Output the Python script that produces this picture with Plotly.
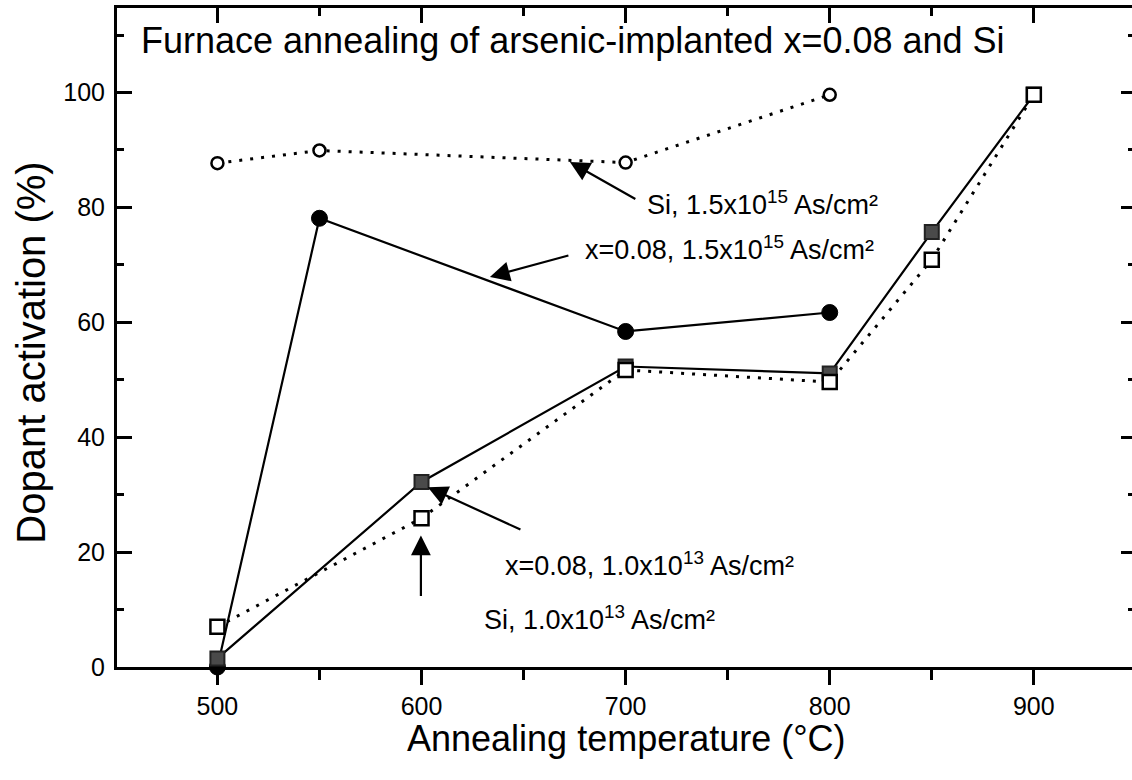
import plotly.graph_objects as go

# Annealing temperatures (°C)
temps_high = [500, 550, 700, 800]
temps_low = [500, 600, 700, 800, 850, 900]

# Dopant activation (%)
si_high = [87.7, 89.9, 87.8, 99.6]          # Si, 1.5x10^15 As/cm²
x08_high = [0.0, 78.1, 58.4, 61.7]          # x=0.08, 1.5x10^15 As/cm²
x08_low = [1.5, 32.2, 52.3, 51.1, 75.7, 99.6]   # x=0.08, 1.0x10^13 As/cm²
si_low = [7.0, 25.9, 51.7, 49.6, 70.9, 99.6]    # Si, 1.0x10^13 As/cm²

x_ticks = [500, 600, 700, 800, 900]
y_ticks = [0, 20, 40, 60, 80, 100]

FONT = "Liberation Sans, Arial, Helvetica, sans-serif"
X_RANGE = [450.8, 948.1]
Y_RANGE = [0, 114.7]
dotted = "3px,8px"

fig = go.Figure()

fig.add_trace(go.Scatter(
    x=temps_high, y=x08_high, mode="lines+markers", cliponaxis=False,
    line=dict(color="black", width=2.2),
    marker=dict(symbol="circle", size=16, color="black", line=dict(color="black", width=1)),
))
fig.add_trace(go.Scatter(
    x=temps_low, y=x08_low, mode="lines+markers", cliponaxis=False,
    line=dict(color="black", width=2.2),
    marker=dict(symbol="square", size=14, color="#4a4a4a", line=dict(color="#222222", width=2)),
))
fig.add_trace(go.Scatter(
    x=temps_low, y=si_low, mode="lines+markers", cliponaxis=False,
    line=dict(color="black", width=3, dash=dotted),
    marker=dict(symbol="square", size=14, color="white", line=dict(color="black", width=2.5)),
))
fig.add_trace(go.Scatter(
    x=temps_high, y=si_high, mode="lines+markers", cliponaxis=False,
    line=dict(color="black", width=3, dash=dotted),
    marker=dict(symbol="circle", size=12, color="white", line=dict(color="black", width=2.5)),
))

axis_common = dict(showgrid=False, zeroline=False, linecolor="black", tickcolor="black")

fig.update_layout(
    width=1132, height=780,
    margin=dict(l=117, r=0, t=8, b=113),
    paper_bgcolor="white", plot_bgcolor="white",
    showlegend=False,
    font=dict(family=FONT, color="black"),
    xaxis=dict(
        **axis_common, range=X_RANGE, tickvals=x_ticks,
        showline=True, linewidth=3,
        ticks="outside", ticklen=15, tickwidth=3,
        minor=dict(dtick=50, tick0=500, ticks="outside", ticklen=10, tickwidth=2.5, tickcolor="black"),
        tickfont=dict(size=25, family=FONT),
    ),
    yaxis=dict(
        **axis_common, range=Y_RANGE, tickvals=y_ticks,
        showline=True, linewidth=3,
        ticks="inside", ticklen=15, tickwidth=3,
        minor=dict(dtick=10, tick0=0, ticks="inside", ticklen=7, tickwidth=2.5, tickcolor="black"),
        tickfont=dict(size=25, family=FONT),
        ticklabelstandoff=4,
    ),
    xaxis2=dict(
        **axis_common, range=X_RANGE, overlaying="x", side="top", anchor="y",
        tickvals=x_ticks, showticklabels=False,
        showline=True, linewidth=3,
        ticks="inside", ticklen=15, tickwidth=3,
        minor=dict(dtick=50, tick0=500, ticks="inside", ticklen=8, tickwidth=2.5, tickcolor="black"),
    ),
    yaxis2=dict(
        **axis_common, range=Y_RANGE, overlaying="y", side="right", anchor="x",
        tickvals=y_ticks, showticklabels=False, showline=False,
        ticks="inside", ticklen=11, tickwidth=3,
        minor=dict(dtick=10, tick0=0, ticks="inside", ticklen=4, tickwidth=2.5, tickcolor="black"),
    ),
)

# Placeholder trace so the top/right axes get their own subplot
fig.add_trace(go.Scatter(x=[None], y=[None], xaxis="x2", yaxis="y2", showlegend=False, hoverinfo="skip"))

# Titles
fig.add_annotation(text="Furnace annealing of arsenic-implanted x=0.08 and Si",
                   xref="paper", yref="paper", x=0.0217, y=0.9514,
                   xanchor="left", yanchor="middle", showarrow=False,
                   font=dict(size=36, family=FONT))
fig.add_annotation(text="Annealing temperature (°C)",
                   xref="paper", yref="paper", x=0.5015, y=-0.108,
                   xanchor="center", yanchor="middle", showarrow=False,
                   font=dict(size=36, family=FONT))
fig.add_annotation(text="Dopant activation (%)", textangle=-90,
                   xref="paper", yref="paper", x=-0.085, y=0.4765,
                   xanchor="center", yanchor="middle", showarrow=False,
                   font=dict(size=40, family=FONT))

# Series labels
labels = [
    ("Si, 1.5x10<sup>15</sup> As/cm²", 709.5, 80.7),
    ("x=0.08, 1.5x10<sup>15</sup> As/cm²", 679.1, 72.9),
    ("x=0.08, 1.0x10<sup>13</sup> As/cm²", 639.9, 18.0),
    ("Si, 1.0x10<sup>13</sup> As/cm²", 629.6, 8.6),
]
for txt, lx, ly in labels:
    fig.add_annotation(text=txt, x=lx, y=ly, xref="x", yref="y",
                       xanchor="left", yanchor="middle", showarrow=False,
                       font=dict(size=27, family=FONT))

# Pointer arrows (tail -> head)
arrows = [
    ((705.5, 81.3), (672.7, 87.9)),
    ((672.7, 71.7), (633.5, 67.9)),
    ((649.2, 23.8), (603.1, 31.3)),
    ((599.7, 12.1), (599.7, 22.9)),
]
for (tx, ty), (hx, hy) in arrows:
    fig.add_annotation(x=hx, y=hy, ax=tx, ay=ty, xref="x", yref="y",
                       axref="x", ayref="y", text="", showarrow=True,
                       arrowhead=2, arrowsize=1.8, arrowwidth=2.2, arrowcolor="black")

fig.write_html("out.html")
